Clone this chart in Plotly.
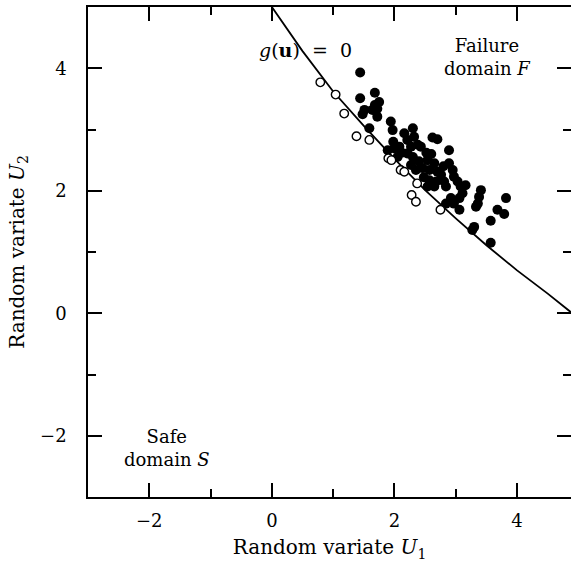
import plotly.graph_objects as go

# Limit-state curve g(u) = 0
curve_u1 = [0.0, 0.5, 1.0, 1.5, 2.0, 2.5, 3.0, 3.5, 4.0, 4.5, 4.9]
curve_u2 = [5.0, 4.28, 3.62, 3.06, 2.52, 2.01, 1.55, 1.11, 0.70, 0.32, 0.0]

# Simulated points in the safe domain (open circles)
safe_u1 = [0.79, 1.04, 1.18, 1.38, 1.59, 1.90, 1.95, 2.10, 2.16, 2.37, 2.28, 2.35, 2.75]
safe_u2 = [3.77, 3.57, 3.26, 2.89, 2.83, 2.53, 2.50, 2.34, 2.31, 2.12, 1.93, 1.82, 1.69]

# Simulated points in the failure domain (filled dots)
fail_u1 = [1.44, 1.68, 1.44, 1.75, 1.51, 1.64, 1.72, 1.48, 1.72, 1.59,
           1.94, 1.97, 2.16, 2.30, 2.21, 2.32, 2.62, 2.70, 2.27, 2.38,
           2.43, 2.89, 1.89, 2.00, 2.08, 2.05, 2.21, 2.30, 2.54, 2.65,
           2.27, 2.35, 2.46, 2.57, 2.70, 2.76, 2.89, 2.95, 2.97, 3.03,
           2.57, 2.68, 2.81, 2.84, 2.54, 2.65, 3.08, 3.16, 3.41, 3.38,
           3.11, 3.06, 2.92, 2.97, 2.84, 3.36, 3.33, 3.06, 3.82, 3.68,
           3.79, 3.57, 3.30, 3.27, 3.57, 1.68, 2.52, 2.40, 2.60, 2.80,
           1.98, 2.12, 2.48]
fail_u2 = [3.93, 3.60, 3.51, 3.45, 3.32, 3.32, 3.34, 3.25, 3.21, 3.02,
           3.13, 2.99, 2.94, 3.02, 2.83, 2.88, 2.87, 2.84, 2.72, 2.75,
           2.72, 2.66, 2.66, 2.69, 2.72, 2.55, 2.61, 2.55, 2.50, 2.45,
           2.42, 2.34, 2.37, 2.34, 2.31, 2.26, 2.45, 2.34, 2.23, 2.15,
           2.17, 2.15, 2.15, 2.07, 2.07, 2.07, 2.07, 2.09, 2.01, 1.90,
           1.96, 1.88, 1.88, 1.79, 1.79, 1.79, 1.74, 1.69, 1.88, 1.69,
           1.62, 1.51, 1.41, 1.36, 1.15, 3.40, 2.62, 2.48, 2.60, 2.40,
           2.80, 2.62, 2.22]

x_ticks = [-2, 0, 2, 4]
y_ticks = [-2, 0, 2, 4]

FONT = "DejaVu Serif"

fig = go.Figure()
fig.add_trace(go.Scatter(x=curve_u1, y=curve_u2, mode="lines",
                         line=dict(color="black", width=1.8),
                         hoverinfo="skip", showlegend=False))
fig.add_trace(go.Scatter(x=fail_u1, y=fail_u2, mode="markers",
                         marker=dict(color="black", size=10, line=dict(width=0)),
                         showlegend=False))
fig.add_trace(go.Scatter(x=safe_u1, y=safe_u2, mode="markers",
                         marker=dict(color="white", size=8.5, symbol="circle",
                                     line=dict(color="black", width=1.4)),
                         showlegend=False))

axis_common = dict(
    showgrid=False, zeroline=False, showline=True, linecolor="black", linewidth=1.5,
    mirror="ticks", ticks="inside", ticklen=14, tickwidth=1.5, tickcolor="black",
    minor=dict(dtick=1, ticks="inside", ticklen=8, tickwidth=1.5, tickcolor="black"),
    tickfont=dict(family=FONT, size=18, color="black"),
)

fig.update_xaxes(range=[-3, 4.88], tickvals=x_ticks, ticklabelstandoff=7,
                 title=dict(text="Random variate <i>U</i><sub>1</sub>",
                            font=dict(family=FONT, size=20, color="black"), standoff=10),
                 **axis_common)
fig.update_yaxes(range=[-3, 5], tickvals=y_ticks, ticklabelstandoff=16,
                 title=dict(text="Random variate <i>U</i><sub>2</sub>",
                            font=dict(family=FONT, size=20, color="black"), standoff=10),
                 **axis_common)

ann_font = dict(family=FONT, size=18, color="black")
fig.add_annotation(x=0.55, y=4.30, xref="x", yref="y",
                   text="<i>g</i>(<b>u</b>)&nbsp;&nbsp;=&nbsp;&nbsp;0",
                   showarrow=False, font=dict(family=FONT, size=19, color="black"))
fig.add_annotation(x=3.52, y=4.19, xref="x", yref="y",
                   text="Failure<br>domain <i>F</i>", showarrow=False, font=ann_font,
                   align="center")
fig.add_annotation(x=-1.71, y=-2.2, xref="x", yref="y",
                   text="Safe<br>domain <i>S</i>", showarrow=False, font=ann_font,
                   align="center")

fig.update_layout(width=571, height=566, plot_bgcolor="white", paper_bgcolor="white",
                  margin=dict(l=88, r=0, t=7, b=69, autoexpand=False), showlegend=False)

fig.write_html("out.html", config={"displayModeBar": False},
               post_script="document.body.style.margin='0';"
                           "document.body.style.overflow='hidden';")
